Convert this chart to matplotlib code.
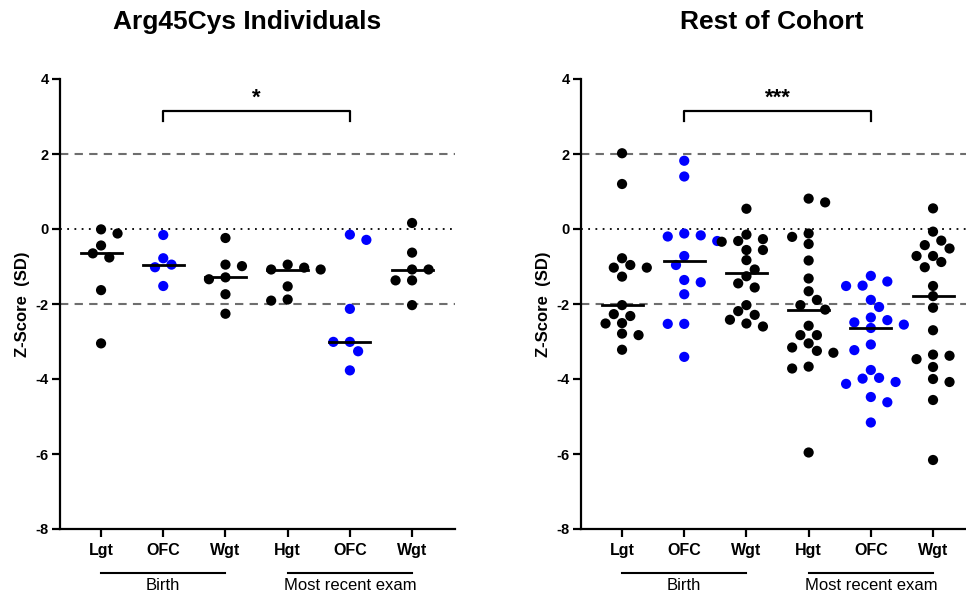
import numpy as np
import matplotlib
matplotlib.use("Agg")
import matplotlib.pyplot as plt
import matplotlib.transforms as mtransforms

plt.rcParams['font.family'] = ['Liberation Sans', 'DejaVu Sans']

#category labels and groups
categories = ["Lgt", "OFC", "Wgt", "Hgt", "OFC", "Wgt"]
groups = [("Birth", 0, 2), ("Most recent exam", 3, 5)]
blue_cols = [1, 4]   #OFC columns drawn blue

#Arg45Cys individuals (z-scores)
arg_lgt_birth = [-0.01, -0.12, -0.44, -0.65, -0.76, -1.63, -3.05]
arg_ofc_birth = [-0.16, -0.78, -0.95, -1.02, -1.52]
arg_wgt_birth = [-0.24, -0.95, -0.99, -1.29, -1.34, -1.74, -2.26]
arg_hgt_recent = [-0.95, -1.03, -1.08, -1.08, -1.53, -1.88, -1.91]
arg_ofc_recent = [-0.15, -0.29, -2.13, -3.01, -3.01, -3.26, -3.77]
arg_wgt_recent = [0.16, -0.63, -1.08, -1.08, -1.37, -1.37, -2.03]

#rest of cohort (z-scores)
rest_lgt_birth = [2.02, 1.2, -0.78, -0.96, -1.03, -1.03, -1.27, -2.03, -2.27, -2.32,
                  -2.51, -2.52, -2.79, -2.83, -3.22]
rest_ofc_birth = [1.82, 1.4, -0.12, -0.17, -0.2, -0.32, -0.72, -0.96, -1.36, -1.42,
                  -1.74, -2.53, -2.53, -3.41]
rest_wgt_birth = [0.54, -0.15, -0.27, -0.32, -0.34, -0.56, -0.56, -0.83, -1.08, -1.26,
                  -1.45, -1.56, -2.03, -2.19, -2.29, -2.42, -2.52, -2.6]
rest_hgt_recent = [0.81, 0.71, -0.12, -0.21, -0.4, -0.84, -1.32, -1.66, -1.89, -2.03,
                   -2.15, -2.58, -2.83, -2.83, -3.05, -3.16, -3.25, -3.3, -3.67, -3.72, -5.96]
rest_ofc_recent = [-1.25, -1.4, -1.51, -1.52, -1.89, -2.08, -2.36, -2.43, -2.49, -2.55,
                   -2.64, -3.08, -3.23, -3.76, -3.97, -3.99, -4.08, -4.13, -4.48, -4.62, -5.16]
rest_wgt_recent = [0.55, -0.07, -0.31, -0.43, -0.52, -0.72, -0.72, -0.88, -1.02, -1.52,
                   -1.79, -2.1, -2.7, -3.35, -3.38, -3.47, -3.68, -4.0, -4.08, -4.56, -6.16]

arg_data = [arg_lgt_birth, arg_ofc_birth, arg_wgt_birth, arg_hgt_recent, arg_ofc_recent, arg_wgt_recent]
rest_data = [rest_lgt_birth, rest_ofc_birth, rest_wgt_birth, rest_hgt_recent, rest_ofc_recent, rest_wgt_recent]

#significance brackets (col1, col2, label)
arg_sig = (1, 4, "*")
rest_sig = (1, 4, "***")

W, H = 966, 596
fig = plt.figure(figsize=(W/100, H/100), dpi=100)

ylo, yhi = -8, 4
ax_bottom = (H-529)/H
ax_height = (529-79)/H
ax1 = fig.add_axes([60/W, ax_bottom, (455-60)/W, ax_height])
ax2 = fig.add_axes([581/W, ax_bottom, (966-581)/W, ax_height])


def swarm_offsets(vals, px_per_y, px_per_x, dot_px=10.0, step_px=8.25):
    #greedy beeswarm on a half-step grid, works in pixels
    vals = np.asarray(vals, float)
    ypx = vals*px_per_y
    order = np.argsort(-vals)
    offs = np.zeros(len(vals))
    placed = []
    for i in order:
        k = 0
        while True:
            if k == 0:
                cands = [0.0]
            else:
                nleft = sum(1 for j in placed if offs[j] < 0)
                nright = sum(1 for j in placed if offs[j] > 0)
                cands = [k*step_px, -k*step_px] if nright <= nleft else [-k*step_px, k*step_px]
            ok = None
            for c in cands:
                if all((c-offs[j])**2 + (ypx[i]-ypx[j])**2 >= dot_px**2 for j in placed):
                    ok = c
                    break
            if ok is not None:
                offs[i] = ok
                break
            k += 1
        placed.append(i)
    return offs/px_per_x


def draw_panel(ax, data, sig, xmax):
    ax.set_ylim(ylo, yhi)
    ax.set_xlim(-0.66, xmax)
    bbox = ax.get_position()
    px_per_y = bbox.height*H/(yhi-ylo)
    px_per_x = bbox.width*W/(xmax+0.66)

    ax.axhline(2, color="#6e6e6e", lw=1.5, ls=(0, (4, 3)), zorder=1)
    ax.axhline(-2, color="#6e6e6e", lw=1.5, ls=(0, (4, 3)), zorder=1)
    ax.axhline(0, color="black", lw=1.3, ls=(0, (1, 3)), zorder=1)

    for i, vals in enumerate(data):
        col = "#0000ff" if i in blue_cols else "black"
        offs = swarm_offsets(vals, px_per_y, px_per_x)
        ax.scatter(i+offs, vals, s=54, color=col, edgecolors="none", zorder=3, clip_on=False)
        med = np.median(vals)
        ax.plot([i-0.33, i+0.33], [med, med], color="black", lw=2, zorder=4)

    #significance bracket
    c1, c2, lab = sig
    ax.plot([c1, c1, c2, c2], [2.88, 3.15, 3.15, 2.88], color="black", lw=1.6, clip_on=False)
    ax.text((c1+c2)/2, 3.2, lab, ha="center", va="bottom", fontsize=16, fontweight="bold")

    ax.spines["top"].set_visible(False)
    ax.spines["right"].set_visible(False)
    ax.spines["left"].set_linewidth(1.6)
    ax.spines["bottom"].set_linewidth(1.6)
    ax.set_yticks(range(ylo, yhi+1, 2))
    ax.set_yticklabels([str(v) for v in range(ylo, yhi+1, 2)])
    ax.set_xticks(range(len(categories)))
    ax.set_xticklabels(categories)
    ax.tick_params(axis="both", width=1.6, length=6, color="black")
    ax.tick_params(axis="y", labelsize=10.5, pad=2)
    ax.tick_params(axis="x", labelsize=11.5, pad=4)
    for t in ax.get_xticklabels() + ax.get_yticklabels():
        t.set_fontweight("bold")
    ax.set_ylabel("Z-Score  (SD)", fontsize=12, fontweight="bold", labelpad=4)

    #group lines under the x labels
    trans = mtransforms.blended_transform_factory(ax.transData, ax.transAxes)
    for name, a, b in groups:
        ax.plot([a, b], [-0.098, -0.098], color="black", lw=1.5, transform=trans, clip_on=False)
        ax.text((a+b)/2, -0.11, name, ha="center", va="top", fontsize=12, transform=trans)


draw_panel(ax1, arg_data, arg_sig, 5.69)
draw_panel(ax2, rest_data, rest_sig, 5.53)

fig.text(247/W, 1-22/H, "Arg45Cys Individuals", ha="center", va="center", fontsize=19, fontweight="bold")
fig.text(772/W, 1-22/H, "Rest of Cohort", ha="center", va="center", fontsize=19, fontweight="bold")

fig.savefig("out.png", dpi=100)
